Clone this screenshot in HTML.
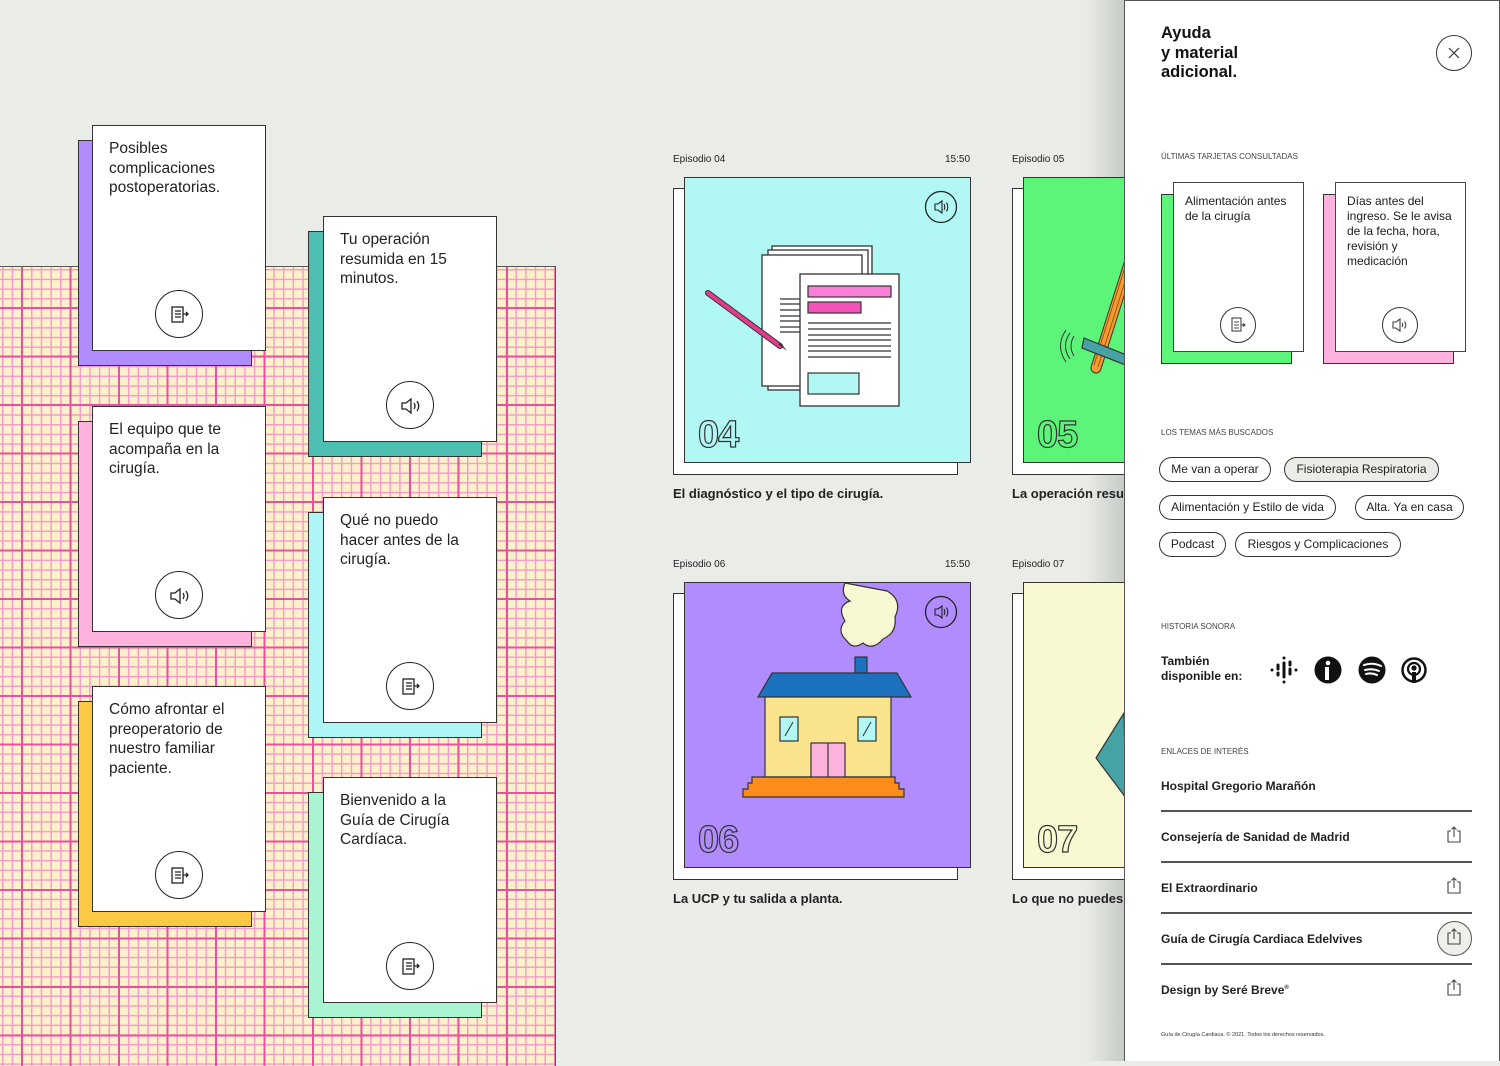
<!DOCTYPE html>
<html><head><meta charset="utf-8">
<style>
*{margin:0;padding:0;box-sizing:border-box}
body{width:1500px;height:1061px;overflow:hidden;background:#e9ece7;font-family:"Liberation Sans",sans-serif;color:#1b1b1b;position:relative}
.abs{position:absolute}
.grid{left:0;top:266px;width:556px;height:800px;border-top:1.5px solid #555;border-right:1.5px solid #555;
background-color:#fdf1cc;
background-image:
linear-gradient(to right,#e8519f 2px,transparent 2px),
linear-gradient(to bottom,#e8519f 2px,transparent 2px),
linear-gradient(to right,#f59cc8 1.6px,transparent 1.6px),
linear-gradient(to bottom,#f59cc8 1.6px,transparent 1.6px);
background-size:48.5px 48.5px,48.5px 48.5px,9.7px 9.7px,9.7px 9.7px;
background-position:21px 0,0 40px,2px 0,0 2px}
.sh{border:1.5px solid #333}
.card{background:#fff;border:1.5px solid #333;width:174px;height:226px}
.ct{position:absolute;left:16px;top:13px;font-size:15.5px;line-height:19.5px;color:#222}
.ic{position:absolute;width:48px;height:48px;border:1.5px solid #222;border-radius:50%;left:62px;bottom:12px;background:#fff}
.ic svg{position:absolute;left:12px;top:12px}
.ep{font-size:10px;color:#222}
.tt{font-size:13px;font-weight:bold;color:#222}
.num{font-size:38px;font-weight:bold;color:transparent;-webkit-text-stroke:1.2px #333;letter-spacing:-1px}
.panel{left:1124px;top:0;width:376px;height:1061px;background:#fff;border-left:1.5px solid #555;border-top:1.5px solid #555;border-right:1.5px solid #555}
.lab{font-size:8px;color:#444;letter-spacing:0}
.pill{position:absolute;height:25px;border:1.3px solid #333;border-radius:13px;font-size:12px;line-height:23px;text-align:center;color:#222}
.lnk{position:absolute;left:36px;font-size:12px;font-weight:bold;color:#222}
.hr{position:absolute;left:36px;width:311px;height:1.5px;background:#555}
</style></head><body>

<div class="abs" style="left:1085px;top:0;width:40px;height:1061px;background:linear-gradient(to right,rgba(233,236,231,0),rgba(190,195,190,.8))"></div>

<div class="abs grid"></div>

<!-- left cards -->
<div class="abs sh" style="left:78px;top:140px;width:174px;height:226px;background:#b18cff"></div>
<div class="abs card" style="left:92px;top:125px"><div class="ct">Posibles<br>complicaciones<br>postoperatorias.</div><div class="ic"><svg width="24" height="24"><rect x="4" y="4" width="11" height="15" fill="none" stroke="#222" stroke-width="1.3"/><path d="M7 8h6M7 11h6M7 14h6M15 11h5M18 9l2 2-2 2" fill="none" stroke="#222" stroke-width="1.3"/></svg></div></div>

<div class="abs sh" style="left:78px;top:421px;width:174px;height:226px;background:#ffb3dc"></div>
<div class="abs card" style="left:92px;top:406px"><div class="ct">El equipo que te<br>acompaña en la<br>cirugía.</div><div class="ic"><svg width="24" height="24"><path d="M3 9h4l5-4v14l-5-4H3z" fill="none" stroke="#222" stroke-width="1.3"/><path d="M15 9q2 3 0 6M18 7q3.5 5 0 10" fill="none" stroke="#222" stroke-width="1.3"/></svg></div></div>

<div class="abs sh" style="left:78px;top:701px;width:174px;height:226px;background:#fcc944"></div>
<div class="abs card" style="left:92px;top:686px"><div class="ct">Cómo afrontar el<br>preoperatorio de<br>nuestro familiar<br>paciente.</div><div class="ic"><svg width="24" height="24"><rect x="4" y="4" width="11" height="15" fill="none" stroke="#222" stroke-width="1.3"/><path d="M7 8h6M7 11h6M7 14h6M15 11h5M18 9l2 2-2 2" fill="none" stroke="#222" stroke-width="1.3"/></svg></div></div>

<div class="abs sh" style="left:308px;top:231px;width:174px;height:226px;background:#4dbfb1"></div>
<div class="abs card" style="left:323px;top:216px"><div class="ct">Tu operación<br>resumida en 15<br>minutos.</div><div class="ic"><svg width="24" height="24"><path d="M3 9h4l5-4v14l-5-4H3z" fill="none" stroke="#222" stroke-width="1.3"/><path d="M15 9q2 3 0 6M18 7q3.5 5 0 10" fill="none" stroke="#222" stroke-width="1.3"/></svg></div></div>

<div class="abs sh" style="left:308px;top:512px;width:174px;height:226px;background:#aef6f5"></div>
<div class="abs card" style="left:323px;top:497px"><div class="ct">Qué no puedo<br>hacer antes de la<br>cirugía.</div><div class="ic"><svg width="24" height="24"><rect x="4" y="4" width="11" height="15" fill="none" stroke="#222" stroke-width="1.3"/><path d="M7 8h6M7 11h6M7 14h6M15 11h5M18 9l2 2-2 2" fill="none" stroke="#222" stroke-width="1.3"/></svg></div></div>

<div class="abs sh" style="left:308px;top:792px;width:174px;height:226px;background:#a9f5d2"></div>
<div class="abs card" style="left:323px;top:777px"><div class="ct">Bienvenido a la<br>Guía de Cirugía<br>Cardíaca.</div><div class="ic"><svg width="24" height="24"><rect x="4" y="4" width="11" height="15" fill="none" stroke="#222" stroke-width="1.3"/><path d="M7 8h6M7 11h6M7 14h6M15 11h5M18 9l2 2-2 2" fill="none" stroke="#222" stroke-width="1.3"/></svg></div></div>

<!-- episodes -->
<div class="abs ep" style="left:673px;top:154px">Episodio 04</div>
<div class="abs ep" style="left:945px;top:154px">15:50</div>
<div class="abs sh" style="left:673px;top:188px;width:285px;height:287px;background:#fff"></div>
<div class="abs sh" style="left:684px;top:177px;width:287px;height:286px;background:#b1f8f5;overflow:hidden">
<svg width="287" height="286" class="abs" style="left:0;top:0">
<rect x="87" y="68" width="100" height="140" fill="#fff" stroke="#333" stroke-width="1.3"/>
<rect x="83" y="72" width="100" height="140" fill="#fff" stroke="#333" stroke-width="1.3"/>
<rect x="77" y="77" width="100" height="131" fill="#fff" stroke="#333" stroke-width="1.3"/>
<g stroke="#333" stroke-width="1.2"><path d="M95 121h25M95 126h25M95 132h25M95 138h25M95 143h25M95 149h25M95 154h25"/></g>
<rect x="115" y="96" width="99" height="132" fill="#fff" stroke="#333" stroke-width="1.3"/>
<rect x="123" y="108" width="83" height="11" fill="#f97fd8" stroke="#333" stroke-width="1.2"/>
<rect x="123" y="124" width="53" height="11" fill="#f452b9" stroke="#333" stroke-width="1.2"/>
<g stroke="#333" stroke-width="1.2"><path d="M123 145h83M123 151h83M123 157h83M123 162h83M123 168h83M123 173h83M123 179h83"/></g>
<rect x="123" y="195" width="51" height="21" fill="#b1f8f5" stroke="#333" stroke-width="1.2"/>
<path d="M23 115L95 168" stroke="#333" stroke-width="6" stroke-linecap="round"/>
<path d="M23 115L95 168" stroke="#e83a8c" stroke-width="4" stroke-linecap="round"/>
<path d="M93 166l9 7-6-8z" fill="#333"/>
<circle cx="256" cy="29" r="15.5" fill="none" stroke="#222" stroke-width="1.3"/>
<path d="M250 26h3l4-3v12l-4-3h-3z" fill="none" stroke="#222" stroke-width="1.1"/><path d="M259 26q1.5 3 0 6M261.5 24.5q2.5 4.5 0 9" fill="none" stroke="#222" stroke-width="1.1"/>
</svg>
<div class="abs num" style="left:13px;top:236px">04</div>
</div>
<div class="abs tt" style="left:673px;top:486px">El diagnóstico y el tipo de cirugía.</div>

<div class="abs ep" style="left:1012px;top:154px">Episodio 05</div>
<div class="abs sh" style="left:1012px;top:188px;width:140px;height:287px;background:#fff"></div>
<div class="abs sh" style="left:1023px;top:177px;width:140px;height:286px;background:#5cf57a;overflow:hidden">
<svg width="140" height="286" class="abs" style="left:0;top:0">
<path d="M118 160l20-60v70z" fill="#b18cff" stroke="#333" stroke-width="1.2"/>
<path d="M72 190L110 70" stroke="#333" stroke-width="11" stroke-linecap="round"/><path d="M72 190L110 70" stroke="#f59a2e" stroke-width="9" stroke-linecap="round"/>
<path d="M70 187L108 67M74 189L112 69" stroke="#8a4a10" stroke-width="0.8"/>
<path d="M60 160l80 32v10l-82-32z" fill="#45a3a6" stroke="#333" stroke-width="1.2"/>
<path d="M50 158q-6 10 0 20M46 155q-9 13 0 26M42 152q-11 16 0 32" fill="none" stroke="#333" stroke-width="1"/>
</svg>
<div class="abs num" style="left:13px;top:236px">05</div>
</div>
<div class="abs tt" style="left:1012px;top:486px">La operación resumida</div>

<div class="abs ep" style="left:673px;top:559px">Episodio 06</div>
<div class="abs ep" style="left:945px;top:559px">15:50</div>
<div class="abs sh" style="left:673px;top:593px;width:285px;height:287px;background:#fff"></div>
<div class="abs sh" style="left:684px;top:582px;width:287px;height:286px;background:#b18cff;overflow:hidden">
<svg width="287" height="286" class="abs" style="left:0;top:0">
<path d="M160 0q-5 12 5 18q-14 5-5 20q-9 10 2 20q6 9 16 2q10 8 20-4q14-6 12-22q8-17-8-26z" fill="#f8f9d2" stroke="#333" stroke-width="1.2"/>
<rect x="170" y="74" width="12" height="16" fill="#1c72bf" stroke="#333" stroke-width="1.2"/>
<path d="M87 90h125l14 24H73z" fill="#1c72bf" stroke="#333" stroke-width="1.2"/>
<rect x="80" y="114" width="126" height="80" fill="#f9e38c" stroke="#333" stroke-width="1.2"/>
<rect x="95" y="134" width="18" height="24" fill="#b1f8f5" stroke="#333" stroke-width="1.2"/>
<rect x="173" y="134" width="18" height="24" fill="#b1f8f5" stroke="#333" stroke-width="1.2"/>
<path d="M100 153l8-14M178 153l8-14" stroke="#333" stroke-width="1"/>
<rect x="126" y="160" width="34" height="35" fill="#ffb3dc" stroke="#333" stroke-width="1.2"/><path d="M143 160v35" stroke="#333" stroke-width="1.2"/>
<path d="M76 194h134v6h4v6h5v8H58v-8h5v-6h4v-6z" fill="#ff8c1a" stroke="#333" stroke-width="1.2"/>
<circle cx="256" cy="29" r="15.5" fill="none" stroke="#222" stroke-width="1.3"/>
<path d="M250 26h3l4-3v12l-4-3h-3z" fill="none" stroke="#222" stroke-width="1.1"/><path d="M259 26q1.5 3 0 6M261.5 24.5q2.5 4.5 0 9" fill="none" stroke="#222" stroke-width="1.1"/>
</svg>
<div class="abs num" style="left:13px;top:236px">06</div>
</div>
<div class="abs tt" style="left:673px;top:891px">La UCP y tu salida a planta.</div>

<div class="abs ep" style="left:1012px;top:559px">Episodio 07</div>
<div class="abs sh" style="left:1012px;top:593px;width:140px;height:287px;background:#fff"></div>
<div class="abs sh" style="left:1023px;top:582px;width:140px;height:286px;background:#f8f9d2;overflow:hidden">
<svg width="140" height="286" class="abs" style="left:0;top:0"><path d="M100 130L72 175l30 40z" fill="#45a3a6" stroke="#333" stroke-width="1.2"/></svg>
<div class="abs num" style="left:13px;top:236px">07</div>
</div>
<div class="abs tt" style="left:1012px;top:891px">Lo que no puedes hacer</div>

<!-- panel -->
<div class="abs panel">
<div class="abs" style="left:36px;top:23px;font-size:16.5px;font-weight:bold;line-height:19.5px;color:#111">Ayuda<br>y material<br>adicional.</div>
<div class="abs" style="left:311px;top:34px;width:36px;height:36px;border:1.3px solid #333;border-radius:50%"><svg width="36" height="36" class="abs" style="left:-1px;top:-1px"><path d="M13 13l10 10M23 13l-10 10" stroke="#333" stroke-width="1.2"/></svg></div>
<div class="abs lab" style="left:36px;top:151px">ÚLTIMAS TARJETAS CONSULTADAS</div>

<div class="abs sh" style="left:36px;top:193px;width:131px;height:170px;background:#5cf57a"></div>
<div class="abs" style="left:48px;top:181px;width:131px;height:170px;background:#fff;border:1.3px solid #444"><div class="abs" style="left:11px;top:11px;font-size:12px;line-height:15px">Alimentación antes<br>de la cirugía</div>
<div class="abs" style="left:46px;top:124px;width:36px;height:36px;border:1.2px solid #333;border-radius:50%"><svg width="36" height="36" class="abs" style="left:-1px;top:-1px"><rect x="12" y="11" width="9" height="13" fill="none" stroke="#444" stroke-width="1.1"/><path d="M14 15h5M14 18h5M14 21h5M21 18h4M23 16.5l2 1.5-2 1.5" fill="none" stroke="#444" stroke-width="1.1"/></svg></div></div>

<div class="abs sh" style="left:198px;top:193px;width:131px;height:170px;background:#ffb3dc"></div>
<div class="abs" style="left:210px;top:181px;width:131px;height:170px;background:#fff;border:1.3px solid #444"><div class="abs" style="left:11px;top:11px;font-size:12px;line-height:15px">Días antes del<br>ingreso. Se le avisa<br>de la fecha, hora,<br>revisión y<br>medicación</div>
<div class="abs" style="left:46px;top:124px;width:36px;height:36px;border:1.2px solid #333;border-radius:50%"><svg width="36" height="36" class="abs" style="left:-1px;top:-1px"><path d="M11 15h3l4-3v12l-4-3h-3z" fill="none" stroke="#444" stroke-width="1.1"/><path d="M20 16q1.5 2 0 4M22.5 14.5q2.5 3.5 0 7" fill="none" stroke="#444" stroke-width="1.1"/></svg></div></div>

<div class="abs lab" style="left:36px;top:427px">LOS TEMAS MÁS BUSCADOS</div>
<div class="pill" style="left:34px;top:456px;width:112px">Me van a operar</div>
<div class="pill" style="left:159px;top:456px;width:155px;background:#e9ece7">Fisioterapia Respiratoria</div>
<div class="pill" style="left:34px;top:494px;width:177px">Alimentación y Estilo de vida</div>
<div class="pill" style="left:230px;top:494px;width:109px">Alta. Ya en casa</div>
<div class="pill" style="left:34px;top:531px;width:67px">Podcast</div>
<div class="pill" style="left:110px;top:531px;width:166px">Riesgos y Complicaciones</div>

<div class="abs lab" style="left:36px;top:621px">HISTORIA SONORA</div>
<div class="abs" style="left:36px;top:653px;font-size:12px;font-weight:bold;line-height:15px">También<br>disponible en:</div>
<svg class="abs" style="left:140px;top:652px" width="170" height="34">
<g stroke="#111" stroke-width="3" stroke-linecap="round"><path d="M7 17h0M13 12v4M13 20v2M19 5v0M19 10v14M19 29v0M25 9v3M25 16v5M31 17h0"/></g>
<circle cx="63" cy="17" r="13.5" fill="#111"/><circle cx="63" cy="10" r="2.3" fill="#fff"/><path d="M60 14h4v13h-4z" fill="#fff"/>
<circle cx="107" cy="17" r="13.5" fill="#111"/><path d="M99 12q9-3 17 1M100 17q7-2 14 1M101 21q6-1.5 11 1" stroke="#fff" stroke-width="2" fill="none" stroke-linecap="round"/>
<circle cx="149" cy="17" r="11.5" fill="none" stroke="#111" stroke-width="2.5"/><circle cx="149" cy="16" r="6" fill="none" stroke="#111" stroke-width="2.2"/><circle cx="149" cy="15" r="2.6" fill="#111"/><path d="M147 19h4v11h-4z" fill="#111"/>
</svg>

<div class="abs lab" style="left:36px;top:746px">ENLACES DE INTERÉS</div>
<div class="lnk" style="top:778px">Hospital Gregorio Marañón</div>
<div class="hr" style="top:809px"></div>
<div class="lnk" style="top:829px">Consejería de Sanidad de Madrid</div>
<div class="hr" style="top:860px"></div>
<div class="lnk" style="top:880px">El Extraordinario</div>
<div class="hr" style="top:911px"></div>
<div class="lnk" style="top:931px">Guía de Cirugía Cardiaca Edelvives</div>
<div class="hr" style="top:962px"></div>
<div class="lnk" style="top:982px">Design by Seré Breve<sup style="font-size:6px">®</sup></div>
<div class="abs" style="left:312px;top:920px;width:35px;height:35px;border-radius:50%;border:1.3px solid #555;background:#eef0ec"></div>
<svg class="abs" style="left:320px;top:825px" width="20" height="180">
<g fill="none" stroke="#444" stroke-width="1.1">
<path d="M6 5H3v11h12V5h-3M9 11V1M6.5 3.5L9 1l2.5 2.5"/>
<path transform="translate(0,51)" d="M6 5H3v11h12V5h-3M9 11V1M6.5 3.5L9 1l2.5 2.5"/>
<path transform="translate(0,102)" d="M6 5H3v11h12V5h-3M9 11V1M6.5 3.5L9 1l2.5 2.5"/>
<path transform="translate(0,153)" d="M6 5H3v11h12V5h-3M9 11V1M6.5 3.5L9 1l2.5 2.5"/>
</g></svg>
<div class="abs" style="left:36px;top:1031px;font-size:5.5px;color:#333">Guía de Cirugía Cardiaca. © 2021. Todos los derechos reservados.</div>
</div>
</body></html>
